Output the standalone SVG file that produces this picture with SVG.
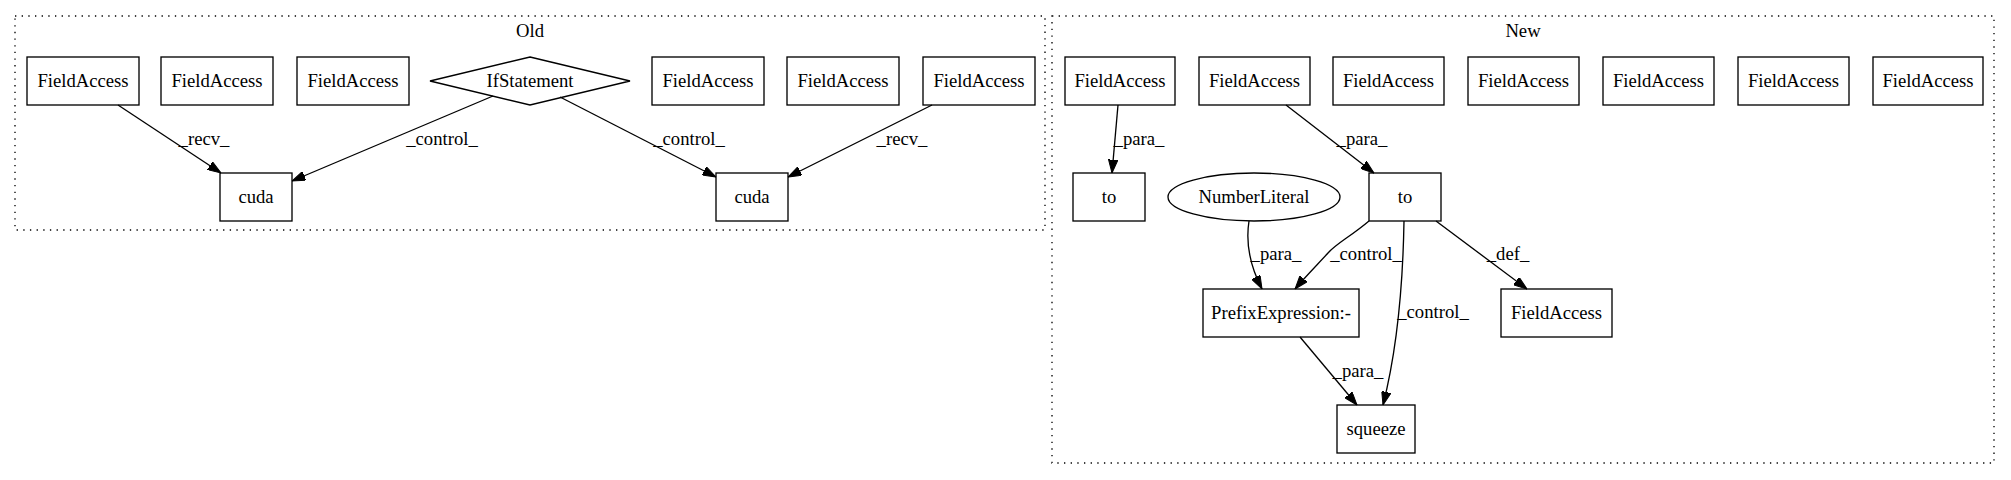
<svg xmlns="http://www.w3.org/2000/svg" width="2011" height="480" viewBox="0 0 2011 480">
<defs>
<style>
text{font-family:"Liberation Serif","Times New Roman",serif;font-size:18.67px;text-anchor:middle;fill:#000}
.n rect,.n polygon,.n ellipse{fill:none;stroke:#000;stroke-width:1.33}
.c{fill:none;stroke:#000;stroke-width:1.33;stroke-dasharray:1.33,5.33}
.e path{fill:none;stroke:#000;stroke-width:1.33;marker-end:url(#ah)}
</style>
<marker id="ah" viewBox="0 0 13.3 9.4" refX="13.3" refY="4.7" markerWidth="13.3" markerHeight="9.4" markerUnits="userSpaceOnUse" orient="auto">
<path d="M0,0 L13.3,4.7 L0,9.4 z" fill="#000" stroke="#000" stroke-width="1"/>
</marker>
</defs>
<rect width="2011" height="480" fill="#fff"/>
<g id="cluster_old">
<rect class="c" x="15" y="16" width="1030" height="214"/>
<text x="530" y="37">Old</text>
</g>
<g id="cluster_new">
<rect class="c" x="1052" y="16" width="942" height="447"/>
<text x="1523" y="37">New</text>
</g>
<g id="old_fa1" class="n"><rect x="27" y="57" width="112" height="48"/><text x="83" y="86.6">FieldAccess</text></g>
<g id="old_fa2" class="n"><rect x="161" y="57" width="112" height="48"/><text x="217" y="86.6">FieldAccess</text></g>
<g id="old_fa3" class="n"><rect x="297" y="57" width="112" height="48"/><text x="353" y="86.6">FieldAccess</text></g>
<g id="old_if" class="n"><polygon points="530,57 630,81 530,105 430,81"/><text x="530" y="86.6">IfStatement</text></g>
<g id="old_fa4" class="n"><rect x="652" y="57" width="112" height="48"/><text x="708" y="86.6">FieldAccess</text></g>
<g id="old_fa5" class="n"><rect x="787" y="57" width="112" height="48"/><text x="843" y="86.6">FieldAccess</text></g>
<g id="old_fa6" class="n"><rect x="923" y="57" width="112" height="48"/><text x="979" y="86.6">FieldAccess</text></g>
<g id="old_cuda1" class="n"><rect x="220" y="173" width="72" height="48"/><text x="256" y="202.6">cuda</text></g>
<g id="old_cuda2" class="n"><rect x="716" y="173" width="72" height="48"/><text x="752" y="202.6">cuda</text></g>
<g id="new_fa1" class="n"><rect x="1065" y="57" width="110" height="48"/><text x="1120" y="86.6">FieldAccess</text></g>
<g id="new_fa2" class="n"><rect x="1199" y="57" width="111" height="48"/><text x="1254.5" y="86.6">FieldAccess</text></g>
<g id="new_fa3" class="n"><rect x="1333" y="57" width="111" height="48"/><text x="1388.5" y="86.6">FieldAccess</text></g>
<g id="new_fa4" class="n"><rect x="1468" y="57" width="111" height="48"/><text x="1523.5" y="86.6">FieldAccess</text></g>
<g id="new_fa5" class="n"><rect x="1603" y="57" width="111" height="48"/><text x="1658.5" y="86.6">FieldAccess</text></g>
<g id="new_fa6" class="n"><rect x="1738" y="57" width="111" height="48"/><text x="1793.5" y="86.6">FieldAccess</text></g>
<g id="new_fa7" class="n"><rect x="1873" y="57" width="110" height="48"/><text x="1928" y="86.6">FieldAccess</text></g>
<g id="new_to1" class="n"><rect x="1073" y="173" width="72" height="48"/><text x="1109" y="202.6">to</text></g>
<g id="new_num" class="n"><ellipse cx="1254" cy="197" rx="86" ry="24"/><text x="1254" y="202.6">NumberLiteral</text></g>
<g id="new_to2" class="n"><rect x="1369" y="173" width="72" height="48"/><text x="1405" y="202.6">to</text></g>
<g id="new_prefix" class="n"><rect x="1203" y="289" width="156" height="48"/><text x="1281" y="318.6">PrefixExpression:-</text></g>
<g id="new_fa8" class="n"><rect x="1501" y="289" width="111" height="48"/><text x="1556.5" y="318.6">FieldAccess</text></g>
<g id="new_squeeze" class="n"><rect x="1337" y="405" width="78" height="48"/><text x="1376" y="434.6">squeeze</text></g>
<g id="edges" class="e">
<path d="M118,105 L221,173"/>
<path d="M493,96 L292,181"/>
<path d="M560,97 L716,177"/>
<path d="M932,105 L788,177"/>
<path d="M1118,105 L1112,173"/>
<path d="M1286,105 L1374,173"/>
<path d="M1249,221 C1246,240 1248,262 1262,289"/>
<path d="M1369,221 C1350,237 1337,243 1328,253 C1318,264 1305,277 1295,289"/>
<path d="M1404,221 C1403,280 1397,350 1383,405"/>
<path d="M1436,221 L1527,289"/>
<path d="M1300,337 L1357,405"/>
<g id="edge_labels">
<text x="204" y="145">_recv_</text>
<text x="442" y="145">_control_</text>
<text x="689" y="145">_control_</text>
<text x="902" y="145">_recv_</text>
<text x="1139" y="145">_para_</text>
<text x="1362" y="145">_para_</text>
<text x="1276" y="260">_para_</text>
<text x="1366" y="260">_control_</text>
<text x="1508" y="260">_def_</text>
<text x="1433" y="318">_control_</text>
<text x="1358" y="377">_para_</text>
</g>
</g>
</svg>
